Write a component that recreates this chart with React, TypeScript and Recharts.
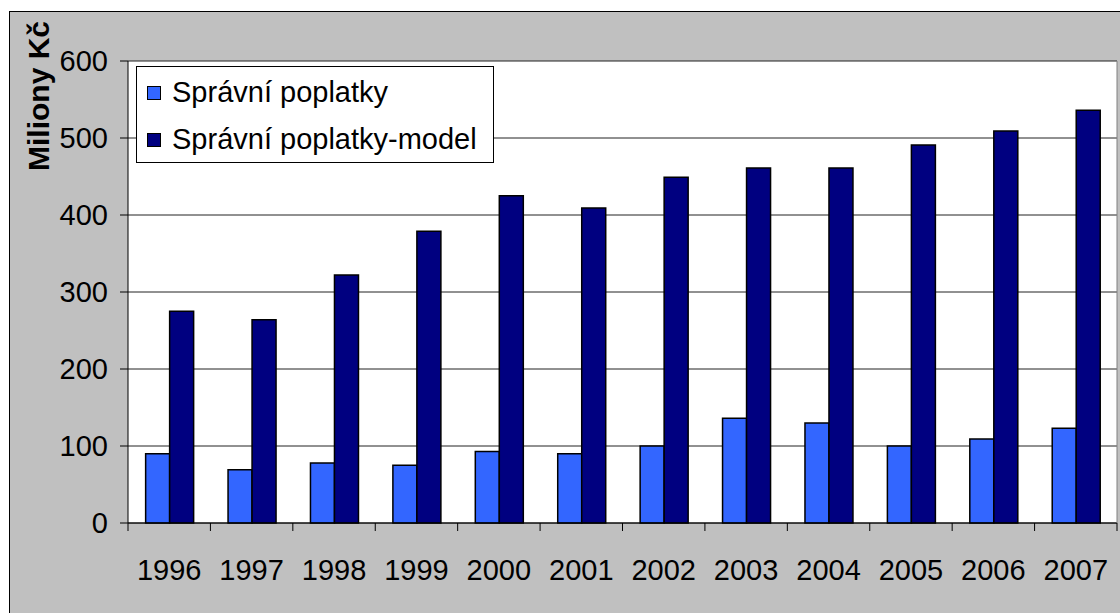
import { BarChart, Bar, XAxis, YAxis, CartesianGrid, Legend, Label } from "recharts";

const years = ["1996", "1997", "1998", "1999", "2000", "2001", "2002", "2003", "2004", "2005", "2006", "2007"];
const poplatky = [90, 69, 78, 75, 93, 90, 100, 136, 130, 100, 109, 123];
const poplatkyModel = [275, 264, 322, 379, 425, 409, 449, 461, 461, 491, 509, 536];
const yTicks = [0, 100, 200, 300, 400, 500, 600];

const SERIES = [
  { key: "poplatky", name: "Správní poplatky", color: "#3366FF" },
  { key: "model", name: "Správní poplatky-model", color: "#000080" },
];

const data = years.map((year, i) => ({
  year,
  poplatky: poplatky[i],
  model: poplatkyModel[i],
}));

const FONT = "'Liberation Sans', Arial, sans-serif";
const W = 1120;
const H = 613;
const PLOT_LEFT = 128;
const PLOT_RIGHT_PAD = 3;
const BAND = (W - PLOT_LEFT - PLOT_RIGHT_PAD) / years.length;

function LegendBox() {
  return (
    <div style={{
      position: "absolute", left: 136, top: 66,
      background: "#fff", border: "1px solid #000", width: 358, height: 97,
      boxSizing: "border-box", padding: "2px 0 0 10px", fontFamily: FONT, fontSize: 29,
    }}>
      {SERIES.map((s) => (
        <div key={s.key} style={{ display: "flex", alignItems: "center", height: 47, whiteSpace: "nowrap" }}>
          <span style={{
            width: 12, height: 12, background: s.color, border: "1px solid #000",
            marginRight: 11, display: "inline-block", flex: "none",
          }} />
          <span style={{ color: "#000" }}>{s.name}</span>
        </div>
      ))}
    </div>
  );
}

// category label plus the tick marks that sit between categories
function YearTick(props: any) {
  const { x, y, payload, index } = props;
  const axisY = y - 36;
  return (
    <g>
      <line x1={x - BAND / 2} x2={x - BAND / 2} y1={axisY} y2={axisY + 8} stroke="#000" />
      {index === years.length - 1 && (
        <line x1={x + BAND / 2} x2={x + BAND / 2} y1={axisY} y2={axisY + 8} stroke="#000" />
      )}
      <text x={x} y={y} dy="0.71em" textAnchor="middle" fontSize={29} fontFamily={FONT} fill="#000">
        {payload.value}
      </text>
    </g>
  );
}

export default function App() {
  return (
    <div style={{ position: "fixed", left: 0, top: 0, width: W, height: H, background: "#fff" }}>
      <div style={{
        position: "absolute", left: 9, top: 11, width: 1120, height: 610,
        background: "#C0C0C0", border: "1px solid #000",
      }} />
      <div style={{ position: "absolute", left: 0, top: 0 }}>
        <BarChart
          width={W}
          height={H}
          data={data}
          margin={{ top: 61, right: 0, bottom: 30, left: 0 }}
          barCategoryGap="21.4%"
          barGap={0}
          style={{ fontFamily: FONT }}
        >
          <CartesianGrid vertical={false} horizontal stroke="#222" fill="#fff" />
          <XAxis
            dataKey="year"
            height={60}
            tickLine={false}
            axisLine={{ stroke: "#000" }}
            tickSize={8}
            tickMargin={28}
            tick={<YearTick />}
            interval={0}
          />
          <YAxis
            domain={[0, 600]}
            ticks={yTicks}
            width={PLOT_LEFT}
            tickSize={8}
            tickMargin={12}
            stroke="#000"
            tick={{ fill: "#000", fontSize: 29, fontFamily: FONT }}
          >
            <Label
              content={() => (
                <text
                  x={0}
                  y={0}
                  transform="translate(38, 96) rotate(-90)"
                  textAnchor="middle"
                  dominantBaseline="central"
                  fontFamily={FONT}
                  fontSize={30}
                  fontWeight="bold"
                  fill="#000"
                >
                  Miliony Kč
                </text>
              )}
            />
          </YAxis>
          <YAxis
            yAxisId="rightEdge"
            orientation="right"
            domain={[0, 600]}
            width={PLOT_RIGHT_PAD}
            tick={false}
            tickLine={false}
            axisLine={{ stroke: "#808080" }}
          />
          <Legend
            layout="horizontal"
            verticalAlign="middle"
            align="center"
            content={() => <LegendBox />}
            wrapperStyle={{ position: "absolute", left: 0, top: 0, width: 0, height: 0 }}
          />
          {SERIES.map((s) => (
            <Bar
              key={s.key}
              dataKey={s.key}
              name={s.name}
              fill={s.color}
              stroke="#000"
              strokeWidth={1.5}
              isAnimationActive={false}
            />
          ))}
        </BarChart>
      </div>
    </div>
  );
}
